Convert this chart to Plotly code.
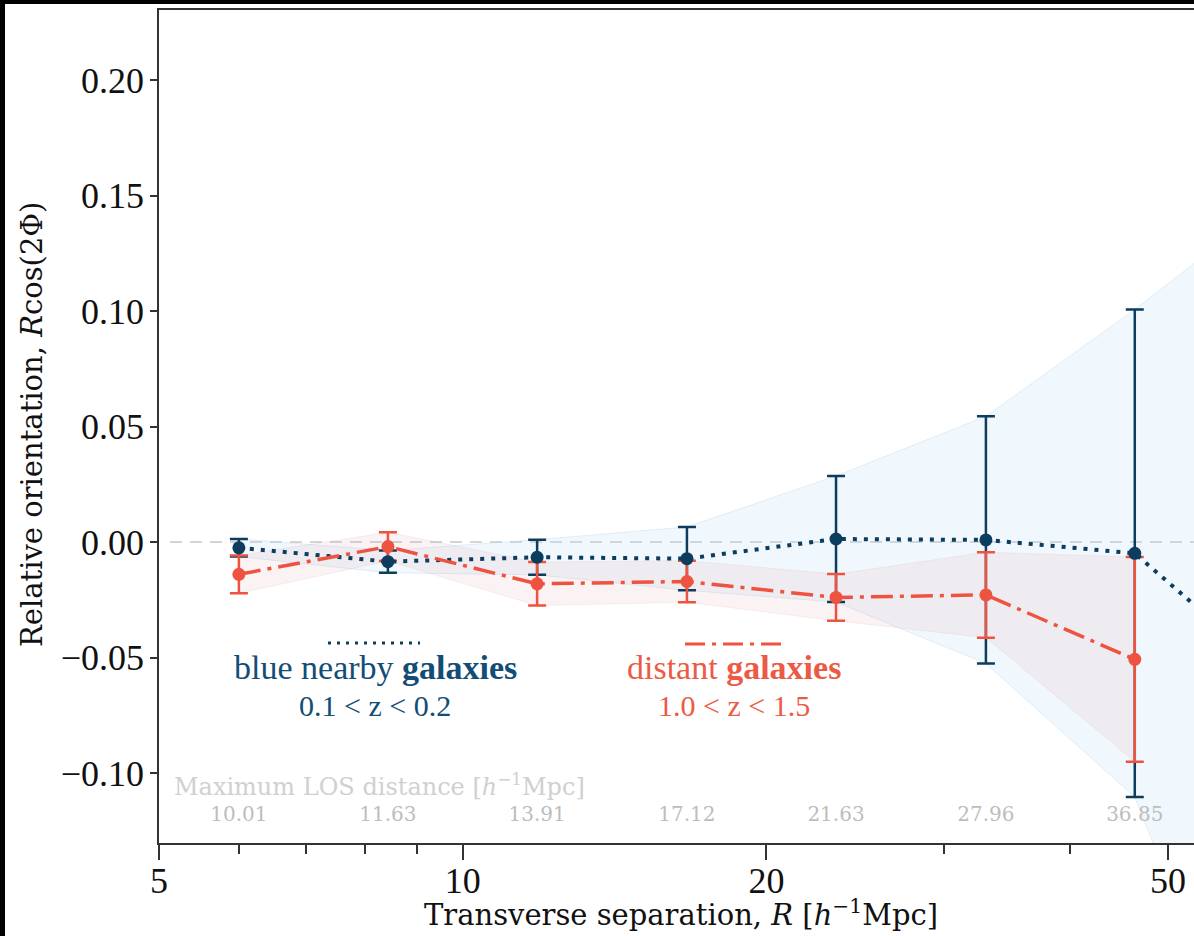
import numpy as np
import plotly.graph_objects as go

# ---------------- data ----------------
R_bins = [6.00, 8.43, 11.85, 16.68, 23.44, 33.0, 46.35]
R_blue = [6.00, 8.43, 11.85, 16.68, 23.44, 33.0, 46.35, 65.2]

blue_y = [-0.0025, -0.0085, -0.0066, -0.0072, 0.0013, 0.0009, -0.0049, -0.061]
blue_err = [0.0038, 0.0048, 0.0076, 0.0137, 0.0273, 0.0535, 0.1055, 0.212]

red_y = [-0.0140, -0.0020, -0.0181, -0.0171, -0.0240, -0.0229, -0.0508]
red_err = [0.0082, 0.0062, 0.0094, 0.0090, 0.0101, 0.0185, 0.0443]

los_labels = ["10.01", "11.63", "13.91", "17.12", "21.63", "27.96", "36.85"]

x_major = [5, 10, 20, 50]
x_minor = [6, 7, 8, 9, 30, 40]
y_ticks = [-0.10, -0.05, 0.00, 0.05, 0.10, 0.15, 0.20]

# ---------------- style ----------------
BLUE = "#0c3c5e"
RED = "#ee5340"
W, H = 1194, 936
ML, MT, MB, MR = 159, 10, 93, 0
PW, PH = W - ML - MR, H - MT - MB

def px_x(px):
    return (px - ML) / PW

def px_y(py):
    return 1 - (py - MT) / PH

fig = go.Figure()

# shaded envelopes
b_up = [y + e for y, e in zip(blue_y, blue_err)]
b_lo = [y - e for y, e in zip(blue_y, blue_err)]
fig.add_trace(go.Scatter(
    x=R_blue + R_blue[::-1], y=b_up + b_lo[::-1], fill="toself",
    fillcolor="rgba(190,222,245,0.22)", line=dict(color="rgba(185,215,235,0.4)", width=1),
    mode="lines", hoverinfo="skip", showlegend=False))
r_up = [y + e for y, e in zip(red_y, red_err)]
r_lo = [y - e for y, e in zip(red_y, red_err)]
fig.add_trace(go.Scatter(
    x=R_bins + R_bins[::-1], y=r_up + r_lo[::-1], fill="toself",
    fillcolor="rgba(220,150,150,0.11)", line=dict(color="rgba(210,160,160,0.15)", width=1),
    mode="lines", hoverinfo="skip", showlegend=False))

# error bars
fig.add_trace(go.Scatter(
    x=R_blue, y=blue_y, mode="markers", marker=dict(size=1, color="rgba(0,0,0,0)"),
    error_y=dict(type="data", array=blue_err, color=BLUE, thickness=2.5, width=9),
    hoverinfo="skip", showlegend=False))
fig.add_trace(go.Scatter(
    x=R_bins, y=red_y, mode="markers", marker=dict(size=1, color="rgba(0,0,0,0)"),
    error_y=dict(type="data", array=red_err, color=RED, thickness=2.5, width=9),
    hoverinfo="skip", showlegend=False))

# lines + markers
fig.add_trace(go.Scatter(
    x=R_blue, y=blue_y, mode="lines+markers",
    line=dict(color=BLUE, width=4, dash="4px,7px"),
    marker=dict(size=13, color=BLUE), hoverinfo="skip", showlegend=False))
fig.add_trace(go.Scatter(
    x=R_bins, y=red_y, mode="lines+markers",
    line=dict(color=RED, width=3.5, dash="22px,7px,4px,7px"),
    marker=dict(size=13, color=RED), hoverinfo="skip", showlegend=False))

# LOS distance labels
fig.add_trace(go.Scatter(
    x=R_bins, y=[-0.1188] * len(R_bins), mode="text", text=los_labels,
    textfont=dict(family="DejaVu Serif", size=20, color="#bdbdbd"),
    hoverinfo="skip", showlegend=False))

shapes = [
    # zero reference line
    dict(type="line", xref="paper", yref="y", x0=px_x(170), x1=1, y0=0, y1=0,
         line=dict(color="#c8c8c8", width=1.5, dash="12px,8px"), layer="below"),
    # legend sample lines
    dict(type="line", xref="paper", yref="y", x0=px_x(328), x1=px_x(420), y0=-0.0437, y1=-0.0437,
         line=dict(color=BLUE, width=3, dash="3px,6px")),
    dict(type="line", xref="paper", yref="y", x0=px_x(685), x1=px_x(782), y0=-0.0442, y1=-0.0442,
         line=dict(color=RED, width=3, dash="20px,7px,4px,7px")),
    # black frame edges of the screenshot
    dict(type="rect", xref="paper", yref="paper", x0=px_x(0), x1=px_x(5), y0=px_y(H), y1=px_y(0),
         fillcolor="black", line=dict(width=0)),
    dict(type="rect", xref="paper", yref="paper", x0=px_x(0), x1=px_x(W), y0=px_y(4), y1=px_y(0),
         fillcolor="black", line=dict(width=0)),
]

annotations = [
    dict(text="Maximum LOS distance [<i>h</i><sup>−1</sup>Mpc]", xref="paper", yref="y",
         x=px_x(172), y=-0.1052, xanchor="left", yanchor="middle", showarrow=False,
         font=dict(family="DejaVu Serif", size=24, color="#d0d0d0")),
    dict(text="blue nearby <b>galaxies</b>", xref="paper", yref="paper", x=px_x(375), y=px_y(667),
         xanchor="center", yanchor="middle", showarrow=False,
         font=dict(family="Liberation Serif", size=34, color="#134d75")),
    dict(text="0.1 &lt; z &lt; 0.2", xref="paper", yref="paper", x=px_x(375), y=px_y(705),
         xanchor="center", yanchor="middle", showarrow=False,
         font=dict(family="Liberation Serif", size=30, color="#134d75")),
    dict(text="distant <b>galaxies</b>", xref="paper", yref="paper", x=px_x(734), y=px_y(667),
         xanchor="center", yanchor="middle", showarrow=False,
         font=dict(family="Liberation Serif", size=34, color="#ec5a46")),
    dict(text="1.0 &lt; z &lt; 1.5", xref="paper", yref="paper", x=px_x(734), y=px_y(705),
         xanchor="center", yanchor="middle", showarrow=False,
         font=dict(family="Liberation Serif", size=30, color="#ec5a46")),
    dict(text="Relative orientation, <i>R</i>cos(2Φ)", xref="paper", yref="paper",
         x=px_x(32), y=px_y(425), xanchor="center", yanchor="middle", textangle=-90,
         showarrow=False, font=dict(family="DejaVu Serif", size=29, color="#111")),
    dict(text="Transverse separation, <i>R</i> [<i>h</i><sup>−1</sup>Mpc]", xref="paper", yref="paper",
         x=px_x(681), y=px_y(913), xanchor="center", yanchor="middle",
         showarrow=False, font=dict(family="DejaVu Serif", size=29, color="#111")),
]

fig.update_layout(
    width=W, height=H,
    margin=dict(l=ML, r=MR, t=MT, b=MB, pad=0),
    paper_bgcolor="white", plot_bgcolor="white",
    shapes=shapes, annotations=annotations,
    showlegend=False,
    xaxis=dict(
        type="log", range=[np.log10(5), np.log10(5) + PW / 1009.0],
        tickmode="array", tickvals=x_major, ticktext=[str(v) for v in x_major],
        ticks="outside", ticklen=15, tickwidth=1.5, tickcolor="#333",
        minor=dict(tickmode="array", tickvals=x_minor, ticks="outside", ticklen=9,
                   tickwidth=1.5, tickcolor="#333", showgrid=False),
        showline=True, linecolor="#333", linewidth=1.5, mirror=True,
        showgrid=False, zeroline=False,
        tickfont=dict(family="Liberation Serif", size=36, color="#111"),
        ticklabelstandoff=-10,
    ),
    yaxis=dict(
        range=[-0.1303, 0.2303],
        tickmode="array", tickvals=y_ticks,
        ticktext=[("−" if v < 0 else "") + f"{abs(v):.2f}" for v in y_ticks],
        ticks="outside", ticklen=7, tickwidth=1.5, tickcolor="#333",
        showline=True, linecolor="#333", linewidth=1.5, mirror=False,
        showgrid=False, zeroline=False,
        tickfont=dict(family="Liberation Serif", size=36, color="#111"),
        ticklabelstandoff=-1,
    ),
)

fig.write_html(
    "out.html",
    config={"displayModeBar": False},
    post_script="document.body.style.margin='0';document.body.style.overflow='hidden';",
)
